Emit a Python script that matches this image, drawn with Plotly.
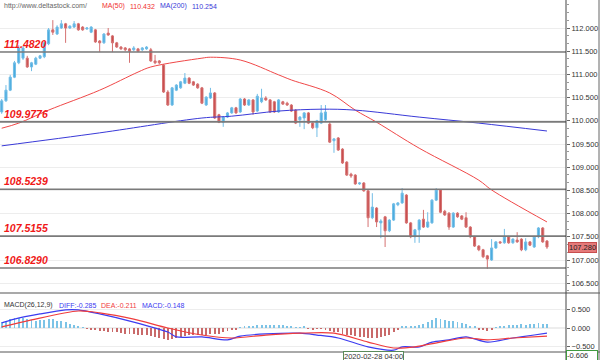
import plotly.graph_objects as go

# ---------------- data ----------------
opens = [110.19,110.43,110.66,110.94,111.25,111.35,111.35,111.16,111.22,111.35,
         111.38,111.66,111.96,111.87,112.00,112.09,112.00,112.02,112.09,112.02,
         111.98,111.91,111.96,111.72,111.68,111.89,111.83,111.68,111.59,111.57,
         111.55,111.53,111.55,111.53,111.55,111.53,111.29,111.29,111.20,110.62,
         110.34,110.66,110.71,110.81,110.92,110.84,110.79,110.71,110.34,110.49,
         110.60,110.13,109.97,110.08,110.17,110.28,110.19,110.47,110.34,110.45,
         110.21,110.41,110.49,110.45,110.41,110.19,110.41,110.38,110.34,110.23,
         110.02,110.06,110.17,109.95,109.85,109.95,110.02,109.93,109.57,109.63,
         109.39,109.11,108.85,108.83,108.64,108.66,108.49,107.91,108.12,107.80,
         107.93,107.63,107.86,108.19,108.23,108.40,107.80,107.50,107.65,107.88,
         107.71,107.80,108.29,108.51,108.05,108.01,107.71,108.01,107.95,107.91,
         107.71,107.50,107.30,107.22,107.09,107.00,107.26,107.39,107.37,107.50,
         107.37,107.43,107.45,107.22,107.39,107.28,107.50,107.69,107.41]
highs = [110.47,110.77,110.99,111.29,111.63,111.61,111.40,111.27,111.38,111.42,
         111.70,112.00,112.17,112.06,112.17,112.11,112.06,112.15,112.11,112.04,
         112.02,112.04,111.98,111.74,111.89,112.00,111.85,111.70,111.61,111.59,
         111.57,111.61,111.57,111.59,111.61,111.57,111.42,111.31,111.22,110.66,
         110.73,110.79,110.86,111.03,110.94,110.86,110.81,110.73,110.53,110.71,
         110.62,110.15,110.10,110.19,110.30,110.30,110.49,110.49,110.47,110.47,
         110.58,110.69,110.53,110.47,110.43,110.47,110.43,110.41,110.36,110.25,
         110.10,110.19,110.19,109.97,110.02,110.34,110.34,109.97,109.63,109.65,
         109.41,109.13,108.88,108.85,108.68,108.68,108.51,108.44,108.14,107.88,
         107.95,107.88,108.23,108.25,108.55,108.42,107.82,107.67,107.88,108.08,
         108.03,108.31,108.55,108.53,108.08,108.03,108.03,108.03,107.97,108.03,
         107.73,107.52,107.32,107.24,107.11,107.45,107.41,107.41,107.67,107.52,
         107.47,107.60,107.47,107.47,107.41,107.52,107.71,107.71,107.43]
lows = [110.15,110.41,110.64,110.92,111.22,111.31,111.14,111.07,111.20,111.33,
        111.35,111.63,111.85,111.85,111.98,111.68,111.98,112.00,111.94,111.94,
        111.96,111.89,111.68,111.48,111.66,111.83,111.48,111.57,111.53,111.50,
        111.25,111.50,111.48,111.50,111.53,111.27,111.22,111.22,110.60,110.32,
        110.32,110.64,110.69,110.79,110.79,110.75,110.69,110.36,110.32,110.47,
        110.04,109.95,109.87,110.06,110.15,110.15,110.17,110.32,110.32,110.13,
        110.19,110.38,110.43,110.17,110.17,110.17,110.34,110.32,110.19,109.93,
        109.87,109.82,109.93,109.82,109.65,109.93,110.00,109.52,109.31,109.35,
        109.07,108.81,108.77,108.62,108.62,108.47,107.71,107.88,107.71,107.47,
        107.28,107.60,107.84,108.16,108.21,107.78,107.47,107.37,107.37,107.69,
        107.69,107.78,108.27,108.01,107.95,107.65,107.69,107.91,107.86,107.69,
        107.47,107.28,107.19,107.04,106.81,106.98,107.24,107.35,107.35,107.35,
        107.35,107.37,107.19,107.19,107.30,107.26,107.47,107.37,107.24]
closes = [110.43,110.66,110.94,111.25,111.57,111.57,111.16,111.25,111.35,111.40,
          111.68,111.96,111.91,112.02,112.09,112.00,112.04,112.09,111.96,111.96,
          112.00,112.02,111.70,111.68,111.87,111.85,111.68,111.59,111.55,111.53,
          111.50,111.57,111.50,111.57,111.59,111.29,111.25,111.25,110.62,110.34,
          110.71,110.77,110.84,110.92,110.81,110.77,110.71,110.38,110.51,110.60,
          110.06,109.97,110.08,110.17,110.28,110.17,110.47,110.34,110.45,110.19,
          110.53,110.49,110.45,110.19,110.19,110.45,110.36,110.34,110.21,109.95,
          110.08,110.17,109.95,109.85,110.00,110.17,110.19,109.54,109.61,109.37,
          109.09,108.83,108.81,108.64,108.66,108.49,107.91,108.14,107.82,107.84,
          107.63,107.86,108.21,108.23,108.44,107.80,107.50,107.65,107.86,107.71,
          107.82,108.29,108.51,108.03,107.97,107.71,108.01,107.93,107.88,107.71,
          107.50,107.30,107.22,107.07,107.02,107.26,107.39,107.37,107.50,107.37,
          107.45,107.39,107.22,107.39,107.32,107.50,107.69,107.39,107.28]

ma50_idx = [0, 4, 11, 23, 32, 35, 47, 49, 56, 65, 68, 77, 83, 88, 98, 112, 115, 128]
ma50_val = [109.84, 109.95, 110.23, 110.66, 111.05, 111.16, 111.35, 111.37, 111.31,
            110.99, 110.88, 110.60, 110.23, 109.97, 109.41, 108.72, 108.51, 107.82]
ma200_idx = [0, 23, 47, 54, 65, 75, 83, 98, 112, 128]
ma200_val = [109.46, 109.74, 110.06, 110.10, 110.21, 110.25, 110.23, 110.08, 109.95, 109.78]

levels = [111.4820, 109.9776, 108.5239, 107.5155, 106.8290]
level_labels = ["111.4820", "109.9776", "108.5239", "107.5155", "106.8290"]

macd_hist = [0.15,0.20,0.24,0.26,0.27,0.26,0.24,0.22,0.20,0.21,
             0.22,0.24,0.23,0.20,0.18,0.15,0.12,0.08,0.05,0.02,
             -0.01,-0.03,-0.05,-0.07,-0.08,-0.10,-0.11,-0.12,-0.14,-0.15,
             -0.16,-0.17,-0.18,-0.19,-0.20,-0.22,-0.24,-0.26,-0.30,-0.33,
             -0.30,-0.27,-0.24,-0.21,-0.20,-0.19,-0.18,-0.20,-0.18,-0.15,
             -0.17,-0.15,-0.12,-0.09,-0.06,-0.03,0.02,0.04,0.06,0.05,
             0.07,0.08,0.09,0.08,0.07,0.08,0.07,0.05,0.03,0.01,
             0.02,0.03,-0.02,-0.03,-0.02,-0.01,-0.04,-0.08,-0.10,-0.12,
             -0.15,-0.18,-0.20,-0.22,-0.23,-0.24,-0.27,-0.27,-0.26,-0.24,
             -0.22,-0.18,-0.12,-0.06,0.03,0.05,0.04,0.06,0.09,0.12,
             0.15,0.22,0.27,0.25,0.22,0.20,0.18,0.16,0.14,0.10,
             0.06,0.03,-0.03,-0.06,-0.08,-0.04,0.02,0.04,0.06,0.07,
             0.08,0.09,0.10,0.09,0.10,0.11,0.13,0.12,0.10]
diff_idx = [0, 3, 9, 15, 18, 23, 31, 39, 41, 47, 53, 56, 62, 70, 74, 79, 86, 92, 94, 98,
            101, 105, 109, 114, 120, 125, 128]
diff_val = [0.14, 0.24, 0.38, 0.49, 0.49, 0.38, 0.16, -0.11, -0.24, -0.24, -0.32, -0.22,
            -0.16, -0.14, -0.19, -0.27, -0.51, -0.60, -0.51, -0.51, -0.38, -0.32, -0.24,
            -0.38, -0.27, -0.19, -0.14]
dea_idx = [0, 7, 18, 23, 31, 39, 47, 54, 62, 70, 78, 86, 92, 97, 103, 109, 114, 120, 128]
dea_val = [0.03, 0.22, 0.46, 0.41, 0.24, 0.00, -0.19, -0.27, -0.19, -0.14, -0.14, -0.38,
           -0.54, -0.51, -0.38, -0.27, -0.32, -0.27, -0.22]

price_ticks = [106.5, 107.0, 107.5, 108.0, 108.5, 109.0, 109.5, 110.0, 110.5, 111.0, 111.5, 112.0]
macd_ticks = [-0.5, 0.0, 0.5]
last_price = 107.280
date_label = "2020-02-28 04:00"

# ---------------- figure ----------------
n = len(closes)
xs = list(range(n))
FONT = "Liberation Sans"
UP, DOWN = "#4aacdf", "#c84e4e"

fig = go.Figure()
fig.add_trace(go.Candlestick(
    x=xs, open=opens, high=highs, low=lows, close=closes,
    increasing=dict(fillcolor=UP, line=dict(color="#72bde6", width=1)),
    decreasing=dict(fillcolor=DOWN, line=dict(color="#d57272", width=1)),
    whiskerwidth=0, xaxis="x", yaxis="y", showlegend=False, hoverinfo="skip"))
fig.add_trace(go.Scatter(x=ma50_idx, y=ma50_val, mode="lines",
                         line=dict(color="#f04848", width=1, shape="spline", smoothing=1.0),
                         xaxis="x", yaxis="y", showlegend=False, hoverinfo="skip"))
fig.add_trace(go.Scatter(x=ma200_idx, y=ma200_val, mode="lines",
                         line=dict(color="#3a3ad8", width=1, shape="spline", smoothing=1.0),
                         xaxis="x", yaxis="y", showlegend=False, hoverinfo="skip"))

hist_colors = ["#7cc3e6" if v >= 0 else "#c96a6a" for v in macd_hist]
fig.add_trace(go.Bar(x=xs, y=macd_hist, marker=dict(color=hist_colors, line=dict(width=0)),
                     width=0.22, xaxis="x2", yaxis="y2", showlegend=False, hoverinfo="skip"))
fig.add_trace(go.Scatter(x=diff_idx, y=diff_val, mode="lines",
                         line=dict(color="#3c3cf0", width=1.2, shape="spline", smoothing=0.8),
                         xaxis="x2", yaxis="y2", showlegend=False, hoverinfo="skip"))
fig.add_trace(go.Scatter(x=dea_idx, y=dea_val, mode="lines",
                         line=dict(color="#f03c3c", width=1.2, shape="spline", smoothing=0.8),
                         xaxis="x2", yaxis="y2", showlegend=False, hoverinfo="skip"))

PH = 352.0  # plot-area height in px
split = (PH - 293) / PH

def py(pix):
    return (PH - pix) / PH

shapes = []
for lv in levels:
    shapes.append(dict(type="line", xref="paper", yref="y", x0=0, x1=1, y0=lv, y1=lv,
                       line=dict(color="#7a7a7a", width=1.6)))
# panel separators / borders
shapes.append(dict(type="line", xref="paper", yref="paper", x0=0, x1=600/566, y0=split, y1=split,
                   line=dict(color="#555", width=1.2)))
shapes.append(dict(type="line", xref="paper", yref="paper", x0=0, x1=600/566, y0=0, y1=0,
                   line=dict(color="#555", width=1)))
shapes.append(dict(type="line", xref="paper", yref="paper", x0=1, x1=1, y0=-8/PH, y1=1,
                   line=dict(color="#444", width=1)))
shapes.append(dict(type="line", xref="paper", yref="paper", x0=599/566, x1=599/566, y0=-8/PH, y1=1,
                   line=dict(color="#666", width=1)))

ann = []
for lv, lab in zip(levels, level_labels):
    ann.append(dict(xref="paper", yref="y", x=0.003, y=lv, xanchor="left", yanchor="bottom",
                    text="<b><i>" + lab + "</i></b>", showarrow=False, yshift=0,
                    font=dict(family=FONT, size=10.5, color="#f01818")))

def txt(x, ypix, s, color, size=7):
    ann.append(dict(xref="paper", yref="paper", x=x/566, y=py(ypix), xanchor="left",
                    yanchor="middle", text=s, showarrow=False,
                    font=dict(family=FONT, size=size, color=color)))

txt(2, 6, "http://www.deltastock.com/", "#666")
txt(100, 6, "MA(50)", "#f03030")
txt(128, 6, "110.432", "#f03030")
txt(158, 6, "MA(200)", "#3a3ad8")
txt(190, 6, "110.254", "#3a3ad8")
txt(2, 305, "MACD(26,12,9)", "#333")
txt(57, 305, "DIFF:-0.285", "#3c3cf0")
txt(99, 305, "DEA:-0.211", "#f03c3c")
txt(140, 305, "MACD:-0.148", "#3c3cf0")

ann.append(dict(xref="paper", yref="y", x=1.004, y=last_price, xanchor="left", yanchor="middle",
                text="%.3f" % last_price, showarrow=False, bgcolor="#e47a7a", bordercolor="#c84e4e",
                borderwidth=1, borderpad=0, font=dict(family=FONT, size=7.5, color="#222")))
ann.append(dict(xref="paper", yref="paper", x=1.0, y=py(355), xanchor="left", yanchor="middle",
                text="-0.606&nbsp;&nbsp;&nbsp;&nbsp;", showarrow=False, bgcolor="#ffffff",
                bordercolor="#3f9a3f", borderwidth=1, borderpad=0,
                font=dict(family=FONT, size=7.5, color="#333")))
ann.append(dict(xref="paper", yref="paper", x=343/566, y=py(356), xanchor="left", yanchor="middle",
                text=date_label, showarrow=False, bgcolor="#ffffff", bordercolor="#5a8a5a",
                borderwidth=1, borderpad=0, font=dict(family=FONT, size=7.5, color="#333")))

xr = [-0.4, -0.4 + 566 / 4.26]
tickfont = dict(family=FONT, size=7.5, color="#333")
fig.update_layout(
    width=600, height=360, margin=dict(l=0, r=34, t=0, b=8, pad=0),
    paper_bgcolor="white", plot_bgcolor="white", showlegend=False, bargap=0,
    xaxis=dict(domain=[0, 1], range=xr, anchor="y", showticklabels=False, showgrid=False,
               zeroline=False, rangeslider=dict(visible=False), fixedrange=True),
    xaxis2=dict(domain=[0, 1], range=xr, anchor="y2", showticklabels=False, showgrid=False,
                zeroline=False, fixedrange=True),
    yaxis=dict(domain=[split, 1], range=[112.0 - 265 / 46.4, 112.0 + 28 / 46.4], side="right",
               anchor="x", tickvals=price_ticks, tickformat=".3f", ticks="outside", ticklen=3,
               tickcolor="#666", gridcolor="#ededed", gridwidth=1, zeroline=False,
               showline=False, tickfont=tickfont,
               minor=dict(ticks="outside", ticklen=2, dtick=0.5 / 3, tickcolor="#999", showgrid=False)),
    yaxis2=dict(domain=[0, split], range=[-(352 - 328) / 37.0, (328 - 293) / 37.0], side="right",
                anchor="x2", tickvals=macd_ticks, tickformat=".3f", ticks="outside", ticklen=3,
                tickcolor="#666", gridcolor="#ededed", zeroline=True, zerolinecolor="#ededed",
                showline=False, tickfont=tickfont),
    shapes=shapes, annotations=ann,
)
fig.write_html("out.html", config={"displayModeBar": False},
               post_script="document.body.style.margin='0';document.body.style.overflow='hidden';")
